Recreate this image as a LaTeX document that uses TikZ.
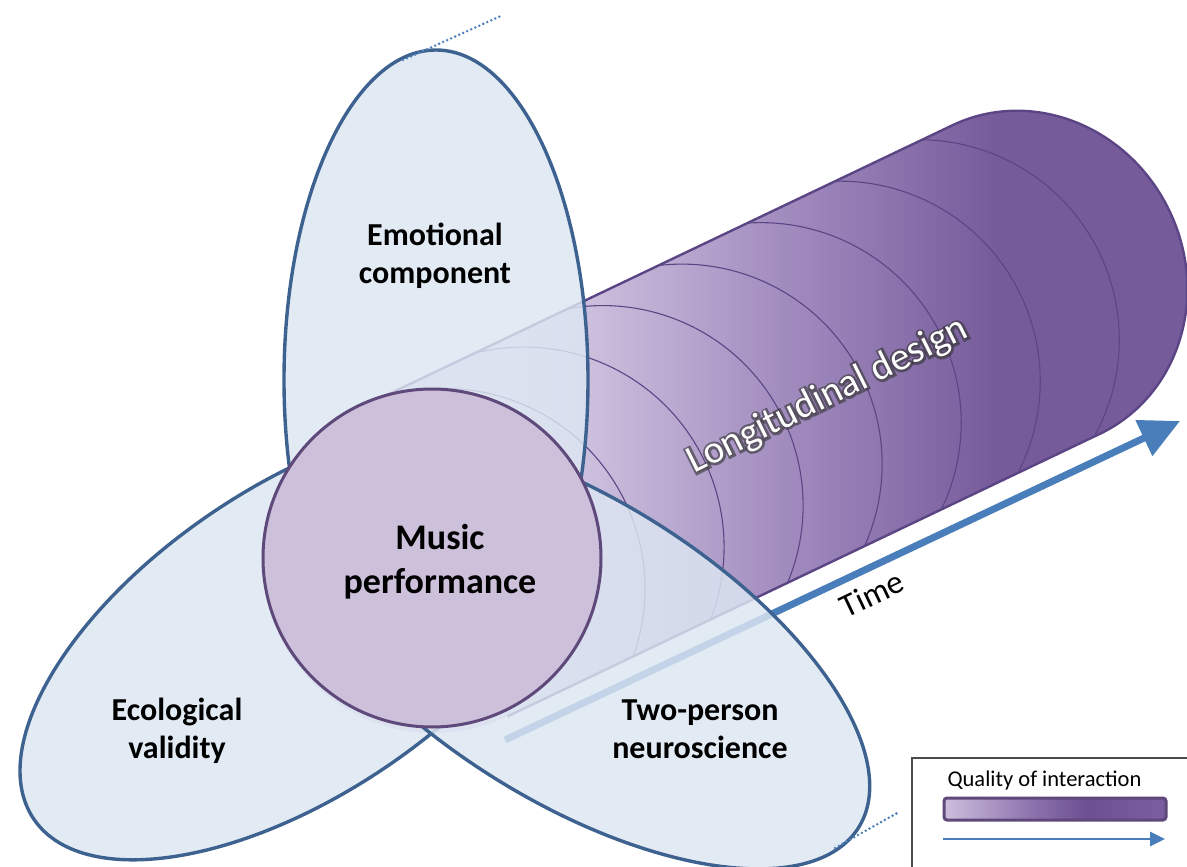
\documentclass[tikz,border=0pt]{standalone}
\usepackage{fontspec}
\setmainfont{Carlito}
\newfontfamily\glowfont[FakeBold=12]{Carlito}
\usetikzlibrary{calc,arrows.meta}
\definecolor{petalfill}{HTML}{DCE6F2}
\definecolor{petaldraw}{HTML}{3D6290}
\definecolor{circfill}{HTML}{CCC0DA}
\definecolor{circdraw}{HTML}{5F497A}
\definecolor{cylL}{HTML}{DDD3E9}
\definecolor{cylM}{HTML}{A691C2}
\definecolor{cylD}{HTML}{765B9B}
\definecolor{cylline}{HTML}{5C4584}
\definecolor{arrowblue}{HTML}{4A7EBB}
\definecolor{dotblue}{HTML}{4F81BD}
\definecolor{barL}{HTML}{CDBEDD}
\definecolor{barM}{HTML}{8C72AC}
\definecolor{barD}{HTML}{6C5093}
\definecolor{barE}{HTML}{7A5EA0}
\pgfdeclarehorizontalshading{cylsh}{100bp}{color(0bp)=(cylL); color(39bp)=(cylL); color(52bp)=(cylM); color(64bp)=(cylD); color(100bp)=(cylD)}
\pgfdeclarehorizontalshading{barsh}{100bp}{color(0bp)=(barL); color(25bp)=(barL); color(45bp)=(barM); color(57bp)=(barD); color(75bp)=(barE); color(100bp)=(barE)}
\begin{document}
\begin{tikzpicture}[x=1pt,y=1pt,
  petal/.style={fill=petalfill, fill opacity=0.83, draw=petaldraw, line width=3.4pt},
  centrecirc/.style={fill=circfill, draw=circdraw, line width=3pt},
  ringline/.style={draw=cylline, line width=1.1pt},
  cylborder/.style={draw=cylline, line width=2.4pt},
  timearrow/.style={draw=arrowblue, line width=7pt, -{Triangle[length=40pt,width=38pt]}},
  legarrow/.style={draw=arrowblue, line width=2.6pt, -{Triangle[length=15pt,width=14pt]}},
  dotline/.style={draw=dotblue, line width=2.8pt, line cap=round, dash pattern=on 0pt off 4.4pt},
  lbl/.style={font=\bfseries\fontsize{32}{38.5}\selectfont, align=center, text=black},
  bigtext/.style={font=\fontsize{39}{45}\selectfont, rotate=26.5}
]
\useasboundingbox (0,0) rectangle (1187,-867);
\clip (0,0) rectangle (1187,-867);

% ---------------- cylinder ----------------
\begin{scope}[shift={(434,-562)}, rotate=25.5]
  \coordinate (cylfront) at (0,0);
  \coordinate (cylend) at (656,0);
  \shade[shading=cylsh] (0,171) -- (656,171) arc[start angle=90,end angle=-90,x radius=159,y radius=171]
      -- (0,-171) arc[start angle=-90,end angle=-270,radius=171] -- cycle;
  \begin{scope}
    \clip (0,171) -- (656,171) arc[start angle=90,end angle=-90,x radius=159,y radius=171]
      -- (0,-171) arc[start angle=-90,end angle=-270,radius=171] -- cycle;
    \foreach \k in {-1,...,6}{
      \begin{scope}[shift={(87.7+89.2*\k,-25.3+3.4*\k)}]
        \clip (0,-320) rectangle (320,320);
        \draw[ringline] (0,0) circle[radius=200];
      \end{scope}
    }
  \end{scope}
  \draw[cylborder] (0,171) -- (656,171) arc[start angle=90,end angle=-90,x radius=159,y radius=171] -- (0,-171);
\end{scope}

% ---------------- time arrow ----------------
\coordinate (tstart) at (505,-740);
\coordinate (tend) at (1180,-421);
\draw[timearrow] (tstart) -- (tend);

% ---------------- petals ----------------
\path[petal] (436,-380) ellipse[x radius=152, y radius=330];
\path[petal, rotate around={34:(299,-640)}] (299,-640) ellipse[x radius=320, y radius=154];
\path[petal, rotate around={-32:(574.5,-650)}] (574.5,-650) ellipse[x radius=335, y radius=151];

% ---------------- centre circle ----------------
\node[centrecirc, circle, minimum size=338pt, inner sep=0pt] (music) at (432,-558) {};
\node[lbl, font=\bfseries\fontsize{36}{44}\selectfont] (musictxt) at (440,-562) {Music\\performance};

% ---------------- labels ----------------
\node[lbl] (emo) at (435,-256) {Emotional\\component};
\node[lbl] (eco) at (177,-731) {Ecological\\validity};
\node[lbl] (two) at (700,-729) {Two-person\\neuroscience};

% Longitudinal design with dark halo
\coordinate (ldpos) at (828,-396);
\node[bigtext, text=black!80, text opacity=0.6, font=\glowfont\fontsize{39}{45}\selectfont] (ldglow) at (ldpos) {Longitudinal design};
\node[bigtext, text=white] (ld) at (ldpos) {Longitudinal design};

\node[font=\fontsize{33}{38}\selectfont, rotate=25.5] (time) at (872,-594) {Time};

% ---------------- dotted tangents ----------------
\coordinate (d1a) at (403,-60);
\coordinate (d1b) at (503,-15);
\coordinate (d2a) at (835,-848);
\coordinate (d2b) at (899,-812);
\draw[dotline] (d1a) -- (d1b);
\draw[dotline] (d2a) -- (d2b);

% ---------------- legend ----------------
\draw[draw=black!70, line width=1.4pt, fill=white] (912,-758) rectangle (1200,-880);
\node[font=\fontsize{22.5}{26}\selectfont, anchor=west] (legtxt) at (944,-780) {Quality of interaction};
\shade[shading=barsh, draw=circdraw, line width=3pt, rounded corners=3pt] (944,-798) rectangle (1166,-820);
\coordinate (la) at (943,-839);
\coordinate (lb) at (1165,-839);
\draw[legarrow] (la) -- (lb);
\end{tikzpicture}
\end{document}
